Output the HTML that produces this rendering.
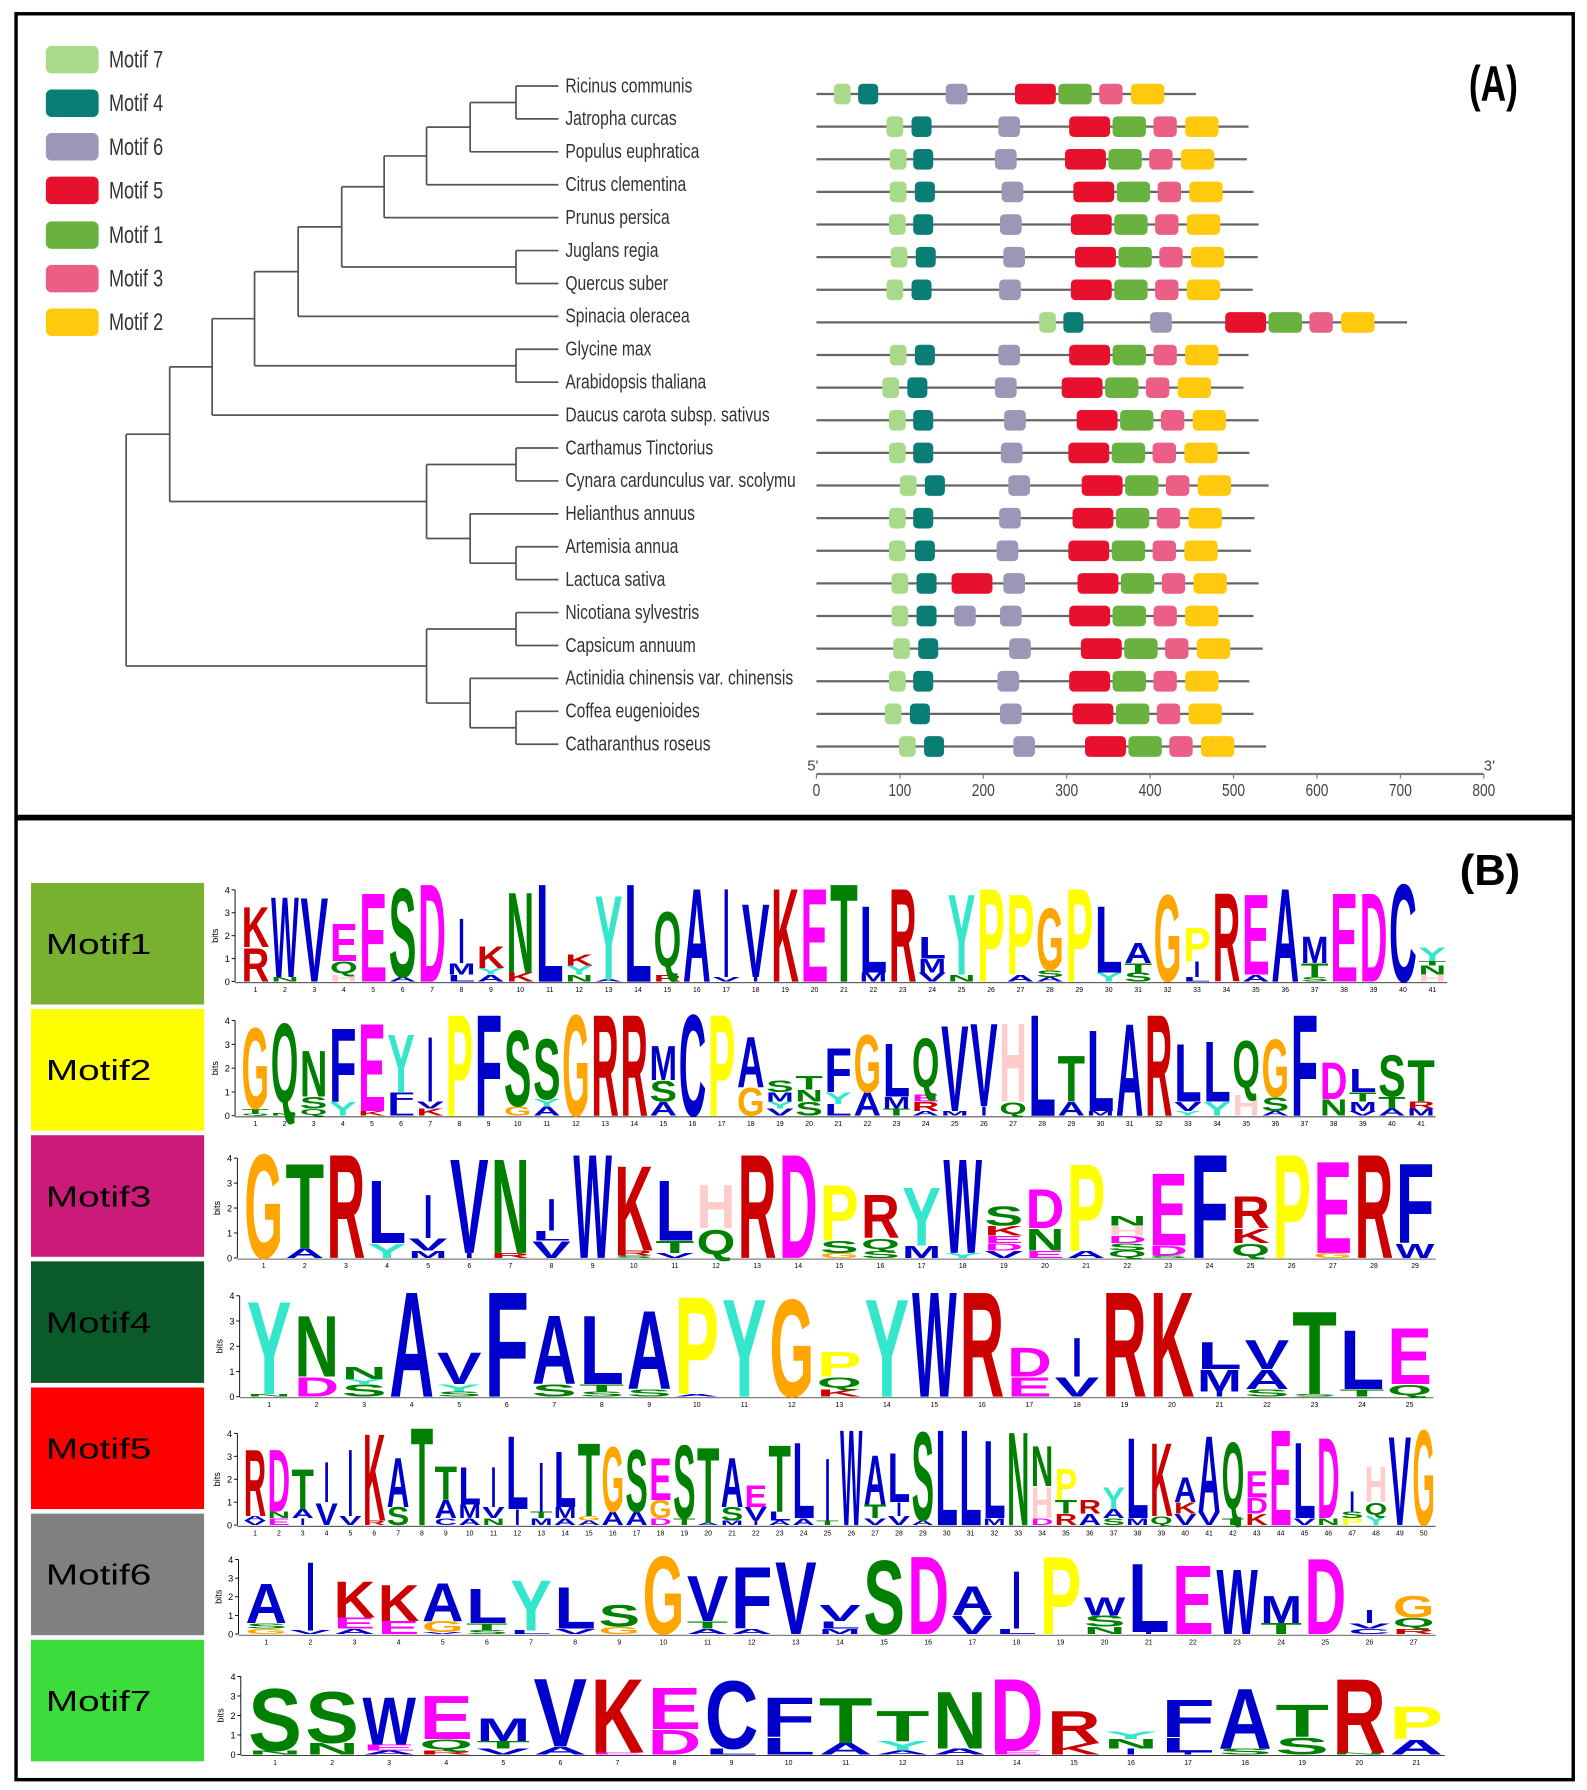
<!DOCTYPE html>
<html><head><meta charset="utf-8">
<style>
html,body{margin:0;padding:0;background:#fff;}
svg{display:block;}
text{font-family:"Liberation Sans",sans-serif;}
</style></head>
<body>
<svg id="s" xmlns="http://www.w3.org/2000/svg" width="1587" height="1790" viewBox="0 0 1384 1561" preserveAspectRatio="none">
<rect x="0" y="0" width="1384" height="1561" fill="#fff"/>
<rect x="14" y="12" width="1358" height="700" fill="none" stroke="#000" stroke-width="3"/>
<rect x="14" y="714" width="1358" height="838" fill="none" stroke="#000" stroke-width="3"/>
<text x="1830" y="88" font-size="44" font-weight="bold" transform="scale(0.7,1)">(A)</text>
<text x="1273" y="772" font-size="38" font-weight="bold">(B)</text>
<g id="g"></g>
</svg>
<script>
const NS="http://www.w3.org/2000/svg";
const g=document.getElementById('g');
function el(t,a,txt){const e=document.createElementNS(NS,t);for(const k in a)e.setAttribute(k,a[k]);if(txt!==undefined)e.textContent=txt;g.appendChild(e);return e;}
const leg=[["#a9d98a","Motif 7"],["#0a7d74","Motif 4"],["#9a98b6","Motif 6"],["#e8112d","Motif 5"],["#6ab23f","Motif 1"],["#eb5f86","Motif 3"],["#ffc90e","Motif 2"]];
const ly=[52,90,128,166,205,243,281];
leg.forEach((l,i)=>{el('rect',{x:40,y:ly[i]-12,width:46,height:24,rx:5,fill:l[0]});
el('text',{x:126.7,y:ly[i]+7,'font-size':21,fill:'#333',transform:'scale(0.75,1)'},l[1]);});
const names=["Ricinus communis","Jatropha curcas","Populus euphratica","Citrus clementina","Prunus persica","Juglans regia","Quercus suber","Spinacia oleracea","Glycine max","Arabidopsis thaliana","Daucus carota subsp. sativus","Carthamus Tinctorius","Cynara cardunculus var. scolymu","Helianthus annuus","Artemisia annua","Lactuca sativa","Nicotiana sylvestris","Capsicum annuum","Actinidia chinensis var. chinensis","Coffea eugenioides","Catharanthus roseus"];
const LY=i=>75+i*28.7;
const ln=(x1,y1,x2,y2)=>el('line',{x1,y1,x2,y2,stroke:'#555','stroke-width':1.5});
names.forEach((n,i)=>{el('text',{x:(493/0.78).toFixed(1),y:LY(i)+5.5,'font-size':17.5,fill:'#333',transform:'scale(0.78,1)'},n);});
function leaf(i){return {x:487,y:LY(i)};}
function node(x,a,b){ln(x,a.y,x,b.y);ln(x,a.y,a.x,a.y);ln(x,b.y,b.x,b.y);return {x,y:(a.y+b.y)/2};}
let n01=node(450,leaf(0),leaf(1));
let n012=node(410,n01,leaf(2));
let n0123=node(372,n012,leaf(3));
let n4=node(335,n0123,leaf(4));
let n56=node(450,leaf(5),leaf(6));
let nA=node(298,n4,n56);
let nB=node(260,nA,leaf(7));
let n89=node(450,leaf(8),leaf(9));
let nC=node(222,nB,n89);
let nD=node(185,nC,leaf(10));
let n1112=node(450,leaf(11),leaf(12));
let n1415=node(450,leaf(14),leaf(15));
let n13=node(410,leaf(13),n1415);
let nE=node(372,n1112,n13);
let nF=node(148,nD,nE);
let n1617=node(450,leaf(16),leaf(17));
let n1920=node(450,leaf(19),leaf(20));
let n18=node(410,leaf(18),n1920);
let nG=node(372,n1617,n18);
node(110,nF,nG);
const X=a=>712+a*0.7275;
const C={m7:"#a9d98a",m4:"#0a7d74",m6:"#9a98b6",m5:"#e8112d",m1:"#6ab23f",m3:"#eb5f86",m2:"#ffc90e"};
const W={m7:20,m4:24,m6:26,m5:49,m1:40,m3:28,m2:40};
const rows=[[21,50,155,238,455],[84,114,218,303,518],[88,116,214,298,516],[88,118,222,308,524],[87,116,220,305,530],[89,119,224,310,529],[84,114,219,305,523],[267,296,400,490,708],[88,118,218,303,518],[79,109,214,294,512],[87,116,225,312,530],[87,116,221,302,519],[100,130,230,318,542],[87,116,219,307,525],[87,118,216,302,521],[90,120,224,313,530,["m5",162]],[90,120,220,303,524,["m6",165]],[92,122,231,317,535],[87,116,217,303,519],[82,112,220,307,524],[99,129,236,322,539]];
function box(k,a,y){el('rect',{x:X(a),y:y-9,width:W[k]*0.7275,height:18,rx:4,fill:C[k]});}
rows.forEach((r,i)=>{const y=82+i*28.45;
el('line',{x1:712,y1:y,x2:X(r[4]),y2:y,stroke:'#666','stroke-width':2});
box('m7',r[0],y);box('m4',r[1],y);box('m6',r[2],y);
if(r[5])box(r[5][0],r[5][1],y);
box('m5',r[3],y);box('m1',r[3]+52,y);box('m3',r[3]+101,y);box('m2',r[3]+139,y);});
el('line',{x1:712,y1:675,x2:1294,y2:675,stroke:'#777','stroke-width':2});
for(let t=0;t<=800;t+=100){el('line',{x1:X(t),y1:675,x2:X(t),y2:679,stroke:'#777','stroke-width':1});
el('text',{x:X(t)/0.8,y:694,'font-size':15,fill:'#444','text-anchor':'middle',transform:'scale(0.8,1)'},String(t));}
el('text',{x:704,y:672,'font-size':13,fill:'#444'},"5'");
el('text',{x:1294,y:672,'font-size':13,fill:'#444'},"3'");
const ml=[["#78b030","Motif1"],["#ffff00","Motif2"],["#cc1a7a","Motif3"],["#0b5a2a","Motif4"],["#ff0000","Motif5"],["#808080","Motif6"],["#3cdc3c","Motif7"]];
ml.forEach((m,i)=>{const y=770+i*110;el('rect',{x:27,y:y,width:151,height:106,fill:m[0]});
el('text',{x:40,y:y+62,'font-size':25,fill:'#000',textLength:92,lengthAdjust:'spacingAndGlyphs'},m[1]);});
const col={A:'#0000cc',C:'#0000cc',F:'#0000cc',I:'#0000cc',L:'#0000cc',M:'#0000cc',V:'#0000cc',W:'#0000cc',G:'#ffa500',D:'#ff00ff',E:'#ff00ff',K:'#cc0000',R:'#cc0000',N:'#008000',Q:'#008000',S:'#008000',T:'#008000',H:'#ffcccc',P:'#ffff00',Y:'#33e6cc'};
const logos=[
{x0:210,x1:1262,b:856,h:80,d:"K1.8R1.5|W3.6N0.2|V3.8|E1.7Q0.6H0.3|E4.0|S4.0A0.2|D4.4|I2.0M0.5L0.3|K1.0Y0.3A0.3|N3.6K0.4|L4.4|K0.5Y0.4N0.3|Y3.8A0.1|L4.4|Q2.9R0.3|A4.2|I4.0V0.2|V3.3I0.2|K4.2|E4.2|T4.4|L3.0M0.4|R4.2|L1.0M0.6V0.4|Y3.6N0.3|P4.2|P3.6A0.3|G2.8S0.3A0.2|P4.2|L3.0Y0.4|A0.9T0.4S0.4|G3.9|P1.5I0.7L0.2|R4.0|E3.6A0.3|A4.2|M1.2T0.6S0.2|E4.0|D4.0|C4.4|Y0.6T0.2N0.4H0.3"},
{x0:210,x1:1252,b:973,h:83,d:"G3.5T0.2Q0.1|Q4.0N0.1|N2.0S0.5Q0.3|F3.2Y0.6|E3.8K0.2|Y2.5F0.5L0.5|I2.8V0.3K0.3|P4.4|F4.4|S3.3G0.4|S2.6Y0.3A0.4|G4.4|R4.4|R4.4|M1.5S0.9A0.6|C4.4|P4.4|A2.2G1.2|S0.5M0.4Y0.3V0.3|T0.6N0.5S0.6|F1.9Y0.5L0.5|G2.5A1.0|L2.3M0.5T0.3|Q2.5E0.3R0.4A0.2|V3.7M0.2|V3.6I0.4|H3.4Q0.6|L4.4|T2.0A0.6|L3.5M0.2|A4.0|R4.4|L2.5V0.4Y0.2|L2.6Y0.6|Q2.4H0.9|G2.5S0.6A0.2|F4.4|D1.6N0.7|L1.0T0.4M0.4V0.2|S1.8T0.5A0.3|T1.8R0.3M0.3"},
{x0:212,x1:1252,b:1097,h:87,d:"G4.3|T3.5A0.4|R4.3|L2.6Y0.6|I1.8V0.5M0.3|V3.9I0.2|N3.9R0.2|I1.3L0.4V0.7|W4.3|K3.5R0.2S0.1|L2.5T0.5V0.2|H1.8Q1.2|R4.3|D4.3|P2.3S0.5G0.2|R1.8Q0.5S0.3|Y2.4M0.5|W3.9Y0.2|S0.8K0.4E0.3D0.3V0.3|D1.6N0.9E0.3|P3.6A0.3|N0.4H0.4D0.3S0.3Q0.3|E3.0D0.4S0.1|F4.3|R1.3K0.6Q0.6|P4.3|E3.8G0.2|R4.3|F3.3W0.6"},
{x0:214,x1:1250,b:1218,h:88,d:"Y3.8N0.1|N2.5D0.8|N0.5Y0.2S0.5|A4.3|V1.3Y0.3S0.2|F4.3|A2.8S0.5|L2.8T0.3S0.2|A3.2S0.3|P4.0A0.1|Y4.0|G4.0|P1.0Q0.5K0.3|Y4.0|W4.3|R4.3|D1.2E0.8|I1.6V0.8|R4.3|K4.3|L1.1M0.9I0.2|V1.2A0.8S0.3|T3.4S0.1|L2.4T0.3|E2.3Q0.5"},
{x0:212,x1:1252,b:1330,h:80,d:"R3.0A0.2V0.2|D2.8N0.3E0.3|T1.8A0.4I0.3|I1.8V1.0|I3.0V0.4|K3.9R0.2|A2.2S0.8|T4.4|T1.5A0.8C0.3|L1.7M0.6A0.3|I1.8V0.5N0.3|L3.3I0.7|I2.2T0.3M0.3|L2.5M0.5A0.3|T3.3G0.2A0.2|G2.9A0.6|S2.8A0.6|E1.9G0.8D0.3|S3.3T0.3|T3.4A0.1|A2.2S0.6M0.2|E1.0V0.6I0.2|T3.0L0.4A0.2|L3.4A0.3|I2.8T0.2|W4.3|A2.2T0.6V0.3|L2.2I0.6V0.4|S4.0A0.2|L4.3|L4.3|L3.5M0.3|N4.2|N1.8H1.4D0.3|P1.4T0.6R0.5|R0.6A0.5|Y1.0A0.4S0.3|L3.6M0.3|K3.3Q0.4|A1.1K0.5V0.5|A3.4V0.6|Q3.5T0.3|E1.2D0.7K0.5|E4.3|L3.4V0.3|D3.6N0.3|I0.9S0.3P0.3|H1.6Q0.6Y0.4|V4.0|G4.3"},
{x0:213,x1:1252,b:1425,h:65,d:"A2.2S0.3G0.3|I3.8V0.2|K2.0E0.6A0.3|K2.0E0.7|A2.1G0.6V0.1|L1.9T0.4S0.2|Y2.8L0.2|L2.3V0.3|S1.2G0.4|G4.3|V2.5T0.4A0.3|F3.4A0.3|V4.0|V0.9L0.4M0.3|S4.1|D4.3|A1.6V1.0|I3.2L0.3|P4.3|W1.0S0.6N0.4|L3.8I0.1|E3.8|W3.6|M1.5T0.6|D4.2|I0.7V0.3C0.3|G1.2Q0.6R0.3"},
{x0:215,x1:1260,b:1530,h:68,d:"S3.3N0.2|S2.7N0.6|W2.5E0.3A0.2|E2.3Q0.6R0.2|M1.2T0.4V0.3|V3.6A0.4|K3.9E0.1|E2.2D1.3|C3.6L0.3|F2.1L0.9|T2.4A0.6|T1.6Y0.5A0.2|N3.0A0.3|D3.8E0.2|R1.7K0.6|Y0.4N0.5I0.3|F2.0L0.8I0.1|A3.2S0.3|T1.7S0.9|R3.9N0.1|P1.7A0.8"}
];
logos.forEach(L=>{
 const cs=L.d.split('|');const cw=(L.x1-L.x0)/cs.length;
 el('line',{x1:L.x0-5,y1:L.b,x2:L.x0-5,y2:L.b-L.h,stroke:'#000','stroke-width':0.8});
 for(let k=0;k<=4;k++){const yy=L.b-k*L.h/4;el('line',{x1:L.x0-8,y1:yy,x2:L.x0-5,y2:yy,stroke:'#000','stroke-width':0.8});
  el('text',{x:L.x0-14,y:yy+3,'font-size':8,fill:'#000'},String(k));}
 el('text',{x:L.x0-20,y:L.b-L.h/2,'font-size':8,fill:'#000',transform:'rotate(-90 '+(L.x0-20)+' '+(L.b-L.h/2)+')','text-anchor':'middle'},'bits');
 el('line',{x1:L.x0-5,y1:L.b+1,x2:L.x1,y2:L.b+1,stroke:'#000','stroke-width':0.6});
 cs.forEach((c,i)=>{
  const toks=[];c.replace(/([A-Z])([\d.]+)/g,(m,a,b)=>{toks.push([a,parseFloat(b)]);});
  let y=L.b;const cx=L.x0+i*cw;
  for(let j=toks.length-1;j>=0;j--){const h=toks[j][1]*L.h/4;const ch=toks[j][0];
   if(h>=1.2){
    let fs=h/0.72, by=y, tl=cw*0.94, tx=cx+cw*0.03;
    if(ch==='Q'){fs=h/0.84;by=y-h*0.12;}
    if(ch==='I'){tl=cw*0.22;tx=cx+cw*0.39;}
    el('text',{x:tx.toFixed(2),y:by.toFixed(2),'font-size':fs.toFixed(2),'font-weight':'bold',fill:col[ch]||'#000',textLength:tl.toFixed(2),lengthAdjust:'spacingAndGlyphs'},ch);}
   y-=h;}
  el('text',{x:cx+cw/2,y:L.b+9,'font-size':6,fill:'#000','text-anchor':'middle'},String(i+1));
 });
});
</script>
</body></html>
